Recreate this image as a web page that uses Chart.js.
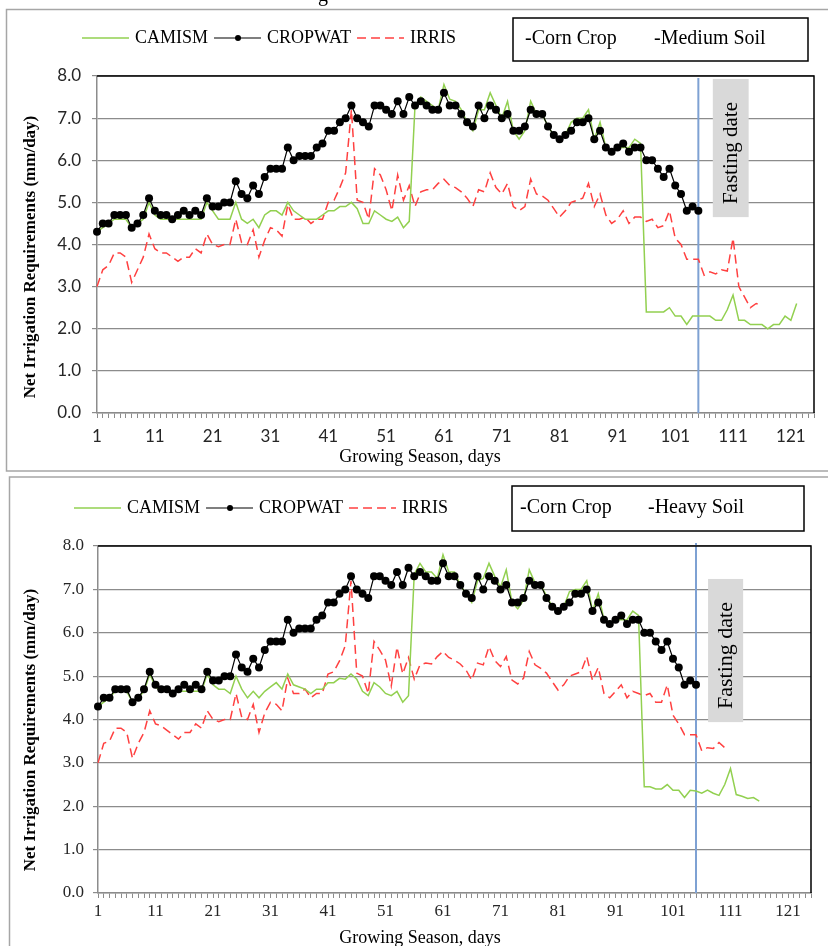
<!DOCTYPE html>
<html>
<head>
<meta charset="utf-8">
<title>Net irrigation requirements - corn crop</title>
<script src="https://cdn.jsdelivr.net/npm/chart.js@4.4.1/dist/chart.umd.min.js"></script>
<style>
  html, body { margin: 0; padding: 0; background: #fff; }
  body { width: 828px; height: 946px; position: relative; overflow: hidden; }
  canvas { position: absolute; left: 0; }
  #mediumSoilChart { top: 0; }
  #heavySoilChart { top: 474px; }
</style>
</head>
<body>
<canvas id="mediumSoilChart" width="828" height="474"></canvas>
<canvas id="heavySoilChart" width="828" height="472"></canvas>
<script>
// Growing season days (x categories) and the labelled ones
const days = Array.from({ length: 125 }, (_, i) => i + 1);
const dayTickLabels = [1, 11, 21, 31, 41, 51, 61, 71, 81, 91, 101, 111, 121];
const fastingDay = 105;

// Medium soil (mm/day), one value per day
const camismMedium = [
  4.3, 4.4, 4.5, 4.6, 4.6, 4.6, 4.4, 4.5, 4.6, 5.0,
  4.7, 4.6, 4.6, 4.6, 4.6, 4.6, 4.6, 4.6, 4.6, 5.0,
  4.8, 4.6, 4.6, 4.6, 5.0, 4.6, 4.5, 4.6, 4.4, 4.7,
  4.8, 4.8, 4.7, 5.0, 4.8, 4.7, 4.6, 4.6, 4.6, 4.7,
  4.8, 4.8, 4.9, 4.9, 5.0, 4.85, 4.5, 4.5, 4.8, 4.7,
  4.6, 4.55, 4.65, 4.4, 4.55, 7.3, 7.5, 7.4, 7.3, 7.2,
  7.8, 7.45, 7.4, 7.2, 6.9, 6.7, 7.2, 7.2, 7.6, 7.3,
  7.0, 7.4, 6.7, 6.5, 6.7, 7.4, 7.1, 7.1, 6.8, 6.6,
  6.5, 6.6, 6.9, 7.0, 7.0, 7.2, 6.5, 6.9, 6.3, 6.2,
  6.3, 6.3, 6.3, 6.5, 6.4, 2.4, 2.4, 2.4, 2.4, 2.5,
  2.3, 2.3, 2.1, 2.3, 2.3, 2.3, 2.3, 2.2, 2.2, 2.45,
  2.8, 2.2, 2.2, 2.1, 2.1, 2.1, 2.0, 2.1, 2.1, 2.3,
  2.2, 2.6
];
const cropwatMedium = [
  4.3, 4.5, 4.5, 4.7, 4.7, 4.7, 4.4, 4.5, 4.7, 5.1,
  4.8, 4.7, 4.7, 4.6, 4.7, 4.8, 4.7, 4.8, 4.7, 5.1,
  4.9, 4.9, 5.0, 5.0, 5.5, 5.2, 5.1, 5.4, 5.2, 5.6,
  5.8, 5.8, 5.8, 6.3, 6.0, 6.1, 6.1, 6.1, 6.3, 6.4,
  6.7, 6.7, 6.9, 7.0, 7.3, 7.0, 6.9, 6.8, 7.3, 7.3,
  7.2, 7.1, 7.4, 7.1, 7.5, 7.3, 7.4, 7.3, 7.2, 7.2,
  7.6, 7.3, 7.3, 7.1, 6.9, 6.8, 7.3, 7.0, 7.3, 7.2,
  7.0, 7.1, 6.7, 6.7, 6.8, 7.2, 7.1, 7.1, 6.8, 6.6,
  6.5, 6.6, 6.7, 6.9, 6.9, 7.0, 6.5, 6.7, 6.3, 6.2,
  6.3, 6.4, 6.2, 6.3, 6.3, 6.0, 6.0, 5.8, 5.6, 5.8,
  5.4, 5.2, 4.8, 4.9, 4.8
];
const irrisMedium = [
  3.0, 3.4, 3.5, 3.8, 3.8, 3.7, 3.1, 3.4, 3.7, 4.25,
  3.9, 3.8, 3.8, 3.7, 3.6, 3.7, 3.7, 3.9, 3.8, 4.25,
  4.0, 3.95, 4.0, 4.0, 4.6, 4.05, 4.0, 4.35, 3.7, 4.1,
  4.4, 4.35, 4.2, 4.95, 4.6, 4.6, 4.65, 4.5, 4.6, 4.6,
  5.0, 5.05, 5.35, 5.7, 7.2, 5.05, 5.0, 4.6, 5.8, 5.65,
  5.3, 4.8, 5.65, 5.05, 5.4, 4.9, 5.25, 5.3, 5.3, 5.45,
  5.55, 5.4, 5.35, 5.25, 5.1, 4.9, 5.3, 5.25, 5.7, 5.35,
  5.2, 5.45, 4.9, 4.8, 4.9, 5.55, 5.2, 5.15, 5.05, 4.85,
  4.65, 4.8, 5.0, 5.05, 5.1, 5.45, 4.9, 5.2, 4.7, 4.5,
  4.6, 4.8, 4.5, 4.65, 4.65, 4.55, 4.6, 4.4, 4.45, 4.8,
  4.15, 4.0, 3.65, 3.65, 3.65, 3.27, 3.35, 3.3, 3.4, 3.37,
  4.15, 3.0, 2.75, 2.5, 2.6, 2.55
];

// Heavy soil (mm/day), one value per day
const camismHeavy = [
  4.3, 4.4, 4.5, 4.65, 4.65, 4.65, 4.4, 4.5, 4.65, 5.05,
  4.75, 4.65, 4.65, 4.65, 4.65, 4.65, 4.65, 4.65, 4.65, 5.05,
  4.8, 4.7, 4.7, 4.6, 5.0, 4.7, 4.5, 4.65, 4.5, 4.65,
  4.75, 4.85, 4.7, 5.05, 4.8, 4.75, 4.7, 4.6, 4.7, 4.7,
  4.85, 4.85, 4.95, 4.93, 5.05, 4.93, 4.65, 4.55, 4.85, 4.75,
  4.6, 4.55, 4.65, 4.4, 4.55, 7.35, 7.6, 7.4, 7.4, 7.25,
  7.8, 7.4, 7.4, 7.1, 6.9, 6.7, 7.2, 7.25, 7.6, 7.3,
  7.05, 7.45, 6.7, 6.55, 6.75, 7.45, 7.15, 7.1, 6.85, 6.6,
  6.5, 6.6, 6.95, 7.0, 7.0, 7.2, 6.5, 6.9, 6.3, 6.2,
  6.3, 6.3, 6.3, 6.5, 6.4, 2.45, 2.45, 2.4, 2.4, 2.5,
  2.37, 2.37, 2.2, 2.37, 2.35, 2.3, 2.37, 2.3, 2.25, 2.5,
  2.87, 2.27, 2.23, 2.18, 2.2, 2.12
];
const cropwatHeavy = [
  4.3, 4.5, 4.5, 4.7, 4.7, 4.7, 4.4, 4.5, 4.7, 5.1,
  4.8, 4.7, 4.7, 4.6, 4.7, 4.8, 4.7, 4.8, 4.7, 5.1,
  4.9, 4.9, 5.0, 5.0, 5.5, 5.2, 5.1, 5.4, 5.2, 5.6,
  5.8, 5.8, 5.8, 6.3, 6.0, 6.1, 6.1, 6.1, 6.3, 6.4,
  6.7, 6.7, 6.9, 7.0, 7.3, 7.0, 6.9, 6.8, 7.3, 7.3,
  7.2, 7.1, 7.4, 7.1, 7.5, 7.3, 7.4, 7.3, 7.2, 7.2,
  7.6, 7.3, 7.3, 7.1, 6.9, 6.8, 7.3, 7.0, 7.3, 7.2,
  7.0, 7.1, 6.7, 6.7, 6.8, 7.2, 7.1, 7.1, 6.8, 6.6,
  6.5, 6.6, 6.7, 6.9, 6.9, 7.0, 6.5, 6.7, 6.3, 6.2,
  6.3, 6.4, 6.2, 6.3, 6.3, 6.0, 6.0, 5.8, 5.6, 5.8,
  5.4, 5.2, 4.8, 4.9, 4.8
];
const irrisHeavy = [
  3.0, 3.45, 3.5, 3.8, 3.8, 3.7, 3.1, 3.45, 3.7, 4.2,
  3.9, 3.85, 3.75, 3.65, 3.55, 3.7, 3.7, 3.9, 3.8, 4.2,
  4.0, 3.95, 4.0, 4.0, 4.6, 4.05, 4.0, 4.35, 3.7, 4.15,
  4.4, 4.35, 4.2, 4.95, 4.6, 4.6, 4.7, 4.5, 4.6, 4.6,
  5.05, 5.1, 5.35, 5.7, 7.2, 5.07, 5.0, 4.6, 5.8, 5.6,
  5.37, 4.77, 5.67, 5.05, 5.43, 4.93, 5.26, 5.3, 5.28, 5.45,
  5.57, 5.43, 5.37, 5.28, 5.14, 4.91, 5.3, 5.26, 5.68, 5.36,
  5.22, 5.45, 4.91, 4.82, 4.95, 5.57, 5.26, 5.18, 5.07, 4.87,
  4.68, 4.8, 5.0, 5.05, 5.1, 5.45, 4.9, 5.2, 4.6, 4.5,
  4.65, 4.8, 4.5, 4.65, 4.6, 4.55, 4.6, 4.4, 4.4, 4.8,
  4.1, 3.9, 3.65, 3.65, 3.65, 3.28, 3.35, 3.33, 3.47, 3.35
];

const SERIF = '"Liberation Serif", "Times New Roman", serif';
const GRID = '#8c8c8c';

function makeDatasets(camism, cropwat, irris) {
    return [
        { label: 'CAMISM', data: camism, borderColor: '#92d050', borderWidth: 1.5, pointRadius: 0, order: 2 },
        { label: 'CROPWAT', data: cropwat, borderColor: '#000', backgroundColor: '#000', borderWidth: 1.2,
          pointRadius: 4, pointBackgroundColor: '#000', pointBorderWidth: 0, order: 1 },
        { label: 'IRRIS', data: irris, borderColor: '#ff4040', borderWidth: 1.5, borderDash: [9, 5], pointRadius: 0, order: 3 }
    ];
}

// Frame, fasting date marker, plot border, legend, info box and axis titles
const panelDecor = {
    id: 'panelDecor',
    beforeDraw(chart, args, o) {
        const { ctx } = chart;
        ctx.save();
        ctx.fillStyle = '#fff';
        ctx.fillRect(0, 0, chart.width, chart.height);
        ctx.strokeStyle = '#a6a6a6';
        ctx.lineWidth = 1.5;
        ctx.strokeRect(o.frame[0], o.frame[1], o.frame[2], o.frame[3]);
        if (o.fragment) {
            ctx.fillStyle = '#000';
            ctx.font = '20px ' + SERIF;
            ctx.textBaseline = 'alphabetic';
            ctx.fillText(o.fragment.text, o.fragment.x, o.fragment.y);
        }
        ctx.restore();
    },
    beforeDatasetsDraw(chart, args, o) {
        const { ctx, chartArea } = chart;
        const x = chart.scales.x, y = chart.scales.y;
        ctx.save();
        // grey "Fasting date" box
        const bx0 = x.getPixelForValue(o.box.from - 1), bx1 = x.getPixelForValue(o.box.to - 1);
        const by0 = y.getPixelForValue(o.box.top), by1 = y.getPixelForValue(o.box.bottom);
        ctx.fillStyle = '#d9d9d9';
        ctx.fillRect(bx0, by0, bx1 - bx0, by1 - by0);
        ctx.fillStyle = '#000';
        ctx.font = o.box.fontSize + 'px ' + SERIF;
        ctx.textAlign = 'center';
        ctx.textBaseline = 'middle';
        ctx.translate((bx0 + bx1) / 2 + 1, (by0 + by1) / 2 + 5);
        ctx.rotate(-Math.PI / 2);
        ctx.fillText('Fasting date', 0, 0);
        ctx.setTransform(1, 0, 0, 1, 0, 0);
        // fasting day vertical line
        const lx = x.getPixelForValue(fastingDay - 1);
        ctx.strokeStyle = '#7ea1d3';
        ctx.lineWidth = 2;
        ctx.beginPath();
        ctx.moveTo(lx, chartArea.top + o.lineTop);
        ctx.lineTo(lx, chartArea.bottom);
        ctx.stroke();
        ctx.restore();
    },
    afterDatasetsDraw(chart) {
        const { ctx, chartArea: a } = chart;
        ctx.save();
        ctx.strokeStyle = '#000';
        ctx.lineWidth = 1.5;
        ctx.beginPath();
        ctx.moveTo(a.left, a.top);
        ctx.lineTo(a.right, a.top);
        ctx.lineTo(a.right, a.bottom);
        ctx.stroke();
        ctx.restore();
    },
    afterDraw(chart, args, o) {
        const { ctx } = chart;
        ctx.save();
        ctx.font = '18px ' + SERIF;
        ctx.textBaseline = 'middle';
        ctx.textAlign = 'left';
        // series legend
        let lx = o.legend.x;
        const ly = o.legend.y;
        chart.data.datasets.forEach(ds => {
            ctx.strokeStyle = ds.borderColor;
            ctx.lineWidth = ds.borderWidth;
            ctx.setLineDash(ds.borderDash || []);
            ctx.beginPath();
            ctx.moveTo(lx, ly);
            ctx.lineTo(lx + 47, ly);
            ctx.stroke();
            ctx.setLineDash([]);
            if (ds.pointRadius > 0) {
                ctx.fillStyle = ds.pointBackgroundColor;
                ctx.beginPath();
                ctx.arc(lx + 24, ly, 3, 0, Math.PI * 2);
                ctx.fill();
            }
            lx += 53;
            ctx.fillStyle = '#000';
            ctx.fillText(ds.label, lx, ly);
            lx += ctx.measureText(ds.label).width + 6;
        });
        // crop / soil box
        const b = o.infoBox;
        ctx.strokeStyle = '#000';
        ctx.lineWidth = 1.5;
        ctx.strokeRect(b.x, b.y, b.w, b.h);
        ctx.font = '20px ' + SERIF;
        ctx.fillStyle = '#000';
        ctx.fillText('-Corn Crop', b.cropX, b.textY);
        ctx.fillText(b.soil, b.soilX, b.textY);
        // axis titles
        ctx.textAlign = 'center';
        ctx.font = '18px ' + SERIF;
        ctx.fillText('Growing Season, days', o.xTitle.x, o.xTitle.y);
        ctx.font = 'bold 17px ' + SERIF;
        ctx.translate(o.yTitle.x, o.yTitle.y);
        ctx.rotate(-Math.PI / 2);
        ctx.fillText('Net Irrigation Requirements (mm/day)', 0, 0);
        ctx.restore();
    }
};

function buildChart(canvasId, datasets, s) {
    return new Chart(document.getElementById(canvasId), {
        type: 'line',
        data: { labels: days, datasets: datasets },
        options: {
            responsive: false,
            animation: false,
            events: [],
            elements: { line: { tension: 0, fill: false } },
            layout: { padding: s.padding },
            plugins: {
                legend: { display: false },
                tooltip: { enabled: false },
                panelDecor: s.decor
            },
            scales: {
                x: {
                    type: 'category',
                    offset: false,
                    afterFit: sc => { sc.height = s.xHeight; },
                    grid: { display: true, drawOnChartArea: false, drawTicks: true, tickLength: 5, color: GRID, lineWidth: 1 },
                    border: { display: true, color: GRID, width: 1.5 },
                    ticks: {
                        autoSkip: false, maxRotation: 0, minRotation: 0, padding: s.xPad,
                        color: '#262626', font: s.tickFont,
                        callback: (val, idx) => dayTickLabels.includes(days[idx]) ? String(days[idx]) : ''
                    }
                },
                y: {
                    min: 0, max: 8,
                    afterFit: sc => { sc.width = s.yWidth; },
                    grid: { color: GRID, lineWidth: 1.2, tickLength: 5 },
                    border: { display: true, color: GRID, width: 1.5 },
                    ticks: { stepSize: 1, padding: s.yPad, color: '#262626', font: s.tickFont,
                             callback: v => v.toFixed(1) }
                }
            }
        },
        plugins: [panelDecor]
    });
}

buildChart('mediumSoilChart', makeDatasets(camismMedium, cropwatMedium, irrisMedium), {
    padding: { top: 76, right: 14, left: 0, bottom: 0 },
    xHeight: 61, yWidth: 97, xPad: 8, yPad: 11,
    tickFont: { family: 'Lato, "Open Sans", sans-serif', size: 17 },
    decor: {
        frame: [6.5, 9.5, 830, 461.5],
        fragment: { text: 'g', x: 318, y: 0.5 },
        box: { from: 107.5, to: 113.7, top: 7.93, bottom: 4.65, fontSize: 21 },
        lineTop: 2,
        legend: { x: 82, y: 38 },
        infoBox: { x: 513, y: 18, w: 295, h: 43, cropX: 525, soilX: 654, textY: 39, soil: '-Medium Soil' },
        xTitle: { x: 420, y: 457 },
        yTitle: { x: 31, y: 257 }
    }
});

buildChart('heavySoilChart', makeDatasets(camismHeavy, cropwatHeavy, irrisHeavy), {
    padding: { top: 72, right: 17, left: 0, bottom: 0 },
    xHeight: 53, yWidth: 98, xPad: 3, yPad: 9,
    tickFont: { family: SERIF, size: 17 },
    decor: {
        frame: [9.5, 3, 830, 480],
        box: { from: 107.1, to: 113.2, top: 7.24, bottom: 3.94, fontSize: 22 },
        lineTop: -3,
        legend: { x: 74, y: 34 },
        infoBox: { x: 512, y: 12, w: 292, h: 45, cropX: 520, soilX: 648, textY: 34, soil: '-Heavy Soil' },
        xTitle: { x: 420, y: 464 },
        yTitle: { x: 31, y: 256 }
    }
});
</script>
</body>
</html>
